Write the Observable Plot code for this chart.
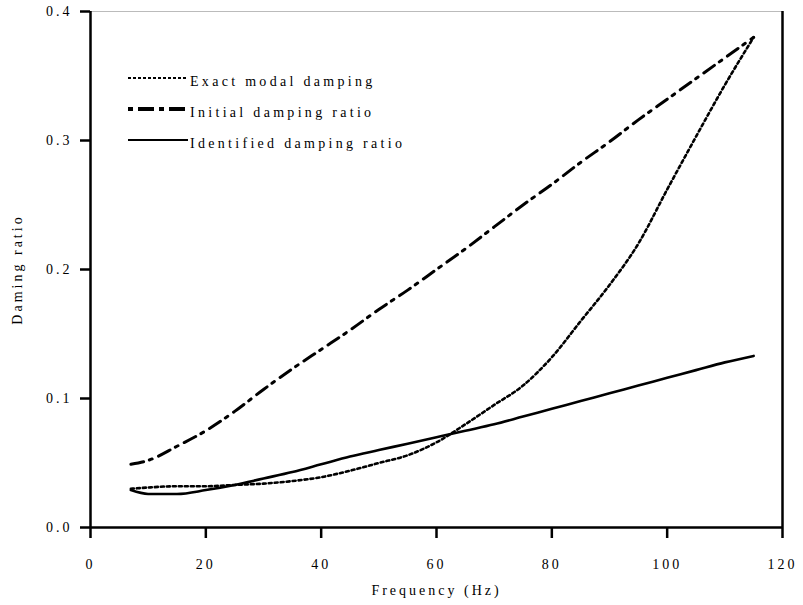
<!DOCTYPE html>
<html>
<head>
<meta charset="utf-8">
<script src="https://cdn.jsdelivr.net/npm/d3@7"></script>
<script src="https://cdn.jsdelivr.net/npm/@observablehq/plot@0.6"></script>
<style>
  body { margin: 0; background: #fff; }
  #wrap { position: relative; width: 803px; height: 605px; font-family: "Liberation Serif", serif; }
  #legend { position: absolute; left: 128px; top: 66px; font-size: 14px; letter-spacing: 3.3px; color: #000; }
  .row { position: relative; height: 31px; }
  .row svg { position: absolute; left: 0; top: 0; }
  .row span { position: absolute; left: 62px; top: 8px; white-space: nowrap; }
</style>
</head>
<body>
<div id="wrap"></div>
<script>
// Data
const freq = [7, 10, 15, 20, 25, 30, 35, 40, 45, 50, 55, 60, 65, 70, 75, 80, 85, 90, 95, 100, 105, 110, 115];
const exactModal = [0.030, 0.031, 0.032, 0.032, 0.033, 0.034, 0.036, 0.039, 0.044, 0.050, 0.056, 0.066, 0.080, 0.095, 0.110, 0.132, 0.160, 0.188, 0.220, 0.262, 0.303, 0.343, 0.380];
const initialRatio = [0.049, 0.052, 0.063, 0.075, 0.090, 0.107, 0.123, 0.138, 0.153, 0.169, 0.184, 0.200, 0.216, 0.233, 0.250, 0.266, 0.283, 0.299, 0.316, 0.332, 0.348, 0.364, 0.380];
const identifiedRatio = [0.029, 0.026, 0.026, 0.029, 0.033, 0.038, 0.043, 0.049, 0.055, 0.060, 0.065, 0.070, 0.075, 0.080, 0.086, 0.092, 0.098, 0.104, 0.110, 0.116, 0.122, 0.128, 0.133];
const xTicks = [0, 20, 40, 60, 80, 100, 120];
const yTicks = [0.0, 0.1, 0.2, 0.3, 0.4];
const seriesNames = ["Exact modal damping", "Initial damping ratio", "Identified damping ratio"];

const mk = vals => freq.map((f, i) => ({f, v: vals[i]}));

const chart = Plot.plot({
  width: 803,
  height: 605,
  marginLeft: 90,
  marginRight: 21,
  marginTop: 11,
  marginBottom: 78,
  style: {fontFamily: "Liberation Serif, serif", fontSize: "14px", letterSpacing: "3px", background: "#fff", color: "#000"},
  x: {domain: [0, 120]},
  y: {domain: [0, 0.4]},
  marks: [
    Plot.ruleY([0.4], {stroke: "#bbb", strokeWidth: 1}),
    Plot.ruleX([120], {stroke: "#000", strokeWidth: 2.5}),
    Plot.axisX({ticks: xTicks, tickSize: 11, tickPadding: 21, strokeWidth: 2.5, tickFormat: d => String(d), label: "Frequency (Hz)", labelAnchor: "center", labelArrow: "none", labelOffset: 67}),
    Plot.axisY({ticks: yTicks, tickSize: 10, tickPadding: 8, strokeWidth: 2.5, tickFormat: d3.format(".1f"), label: "Daming ratio", labelAnchor: "center", labelArrow: "none", labelOffset: 78}),
    Plot.ruleX([0], {stroke: "#000", strokeWidth: 2.5}),
    Plot.ruleY([0], {stroke: "#000", strokeWidth: 2.5}),
    Plot.line(mk(identifiedRatio), {x: "f", y: "v", stroke: "#000", strokeWidth: 2.6, curve: "monotone-x"}),
    Plot.line(mk(exactModal), {x: "f", y: "v", stroke: "#000", strokeWidth: 2.6, strokeDasharray: "3,3", curve: "monotone-x"}),
    Plot.line(mk(initialRatio), {x: "f", y: "v", stroke: "#000", strokeWidth: 3, strokeDasharray: "13,6,3,7", curve: "monotone-x"})
  ]
});
document.getElementById("wrap").appendChild(chart);

d3.select(chart).selectAll("[aria-label='x-axis label'] text, [aria-label='y-axis label'] text").style("font-size", "14px");

// Legend
const dashes = [
  {dash: "3,2", w: 2},
  {dash: "5,5,16,5", w: 4},
  {dash: null, w: 2.2}
];
const leg = d3.select("#wrap").append("div").attr("id", "legend");
seriesNames.forEach((name, i) => {
  const row = leg.append("div").attr("class", "row");
  const svg = row.append("svg").attr("width", 62).attr("height", 30);
  const ln = svg.append("line").attr("x1", 0).attr("x2", 60).attr("y1", 12).attr("y2", 12)
    .attr("stroke", "#000").attr("stroke-width", dashes[i].w);
  if (dashes[i].dash) ln.attr("stroke-dasharray", dashes[i].dash);
  row.append("span").text(name);
});
</script>
</body>
</html>
